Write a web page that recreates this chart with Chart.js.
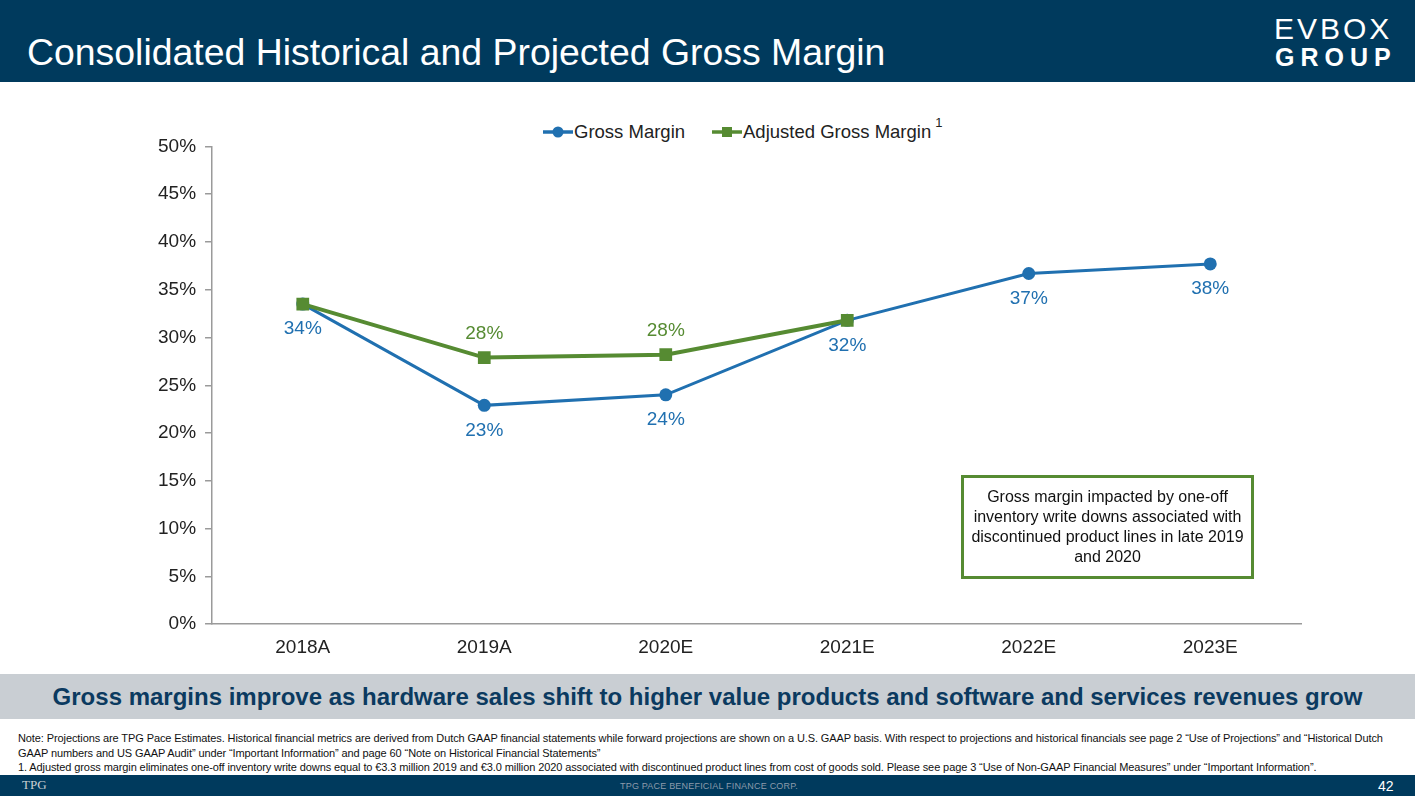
<!DOCTYPE html>
<html>
<head>
<meta charset="utf-8">
<script src="https://cdn.jsdelivr.net/npm/chart.js@4.4.0/dist/chart.umd.min.js"></script>
<style>
  body { margin: 0; width: 1415px; height: 796px; position: relative; overflow: hidden; background: #fff; font-family: "Liberation Sans", Arial, sans-serif; }
  #header { position: absolute; left: 0; top: 0; width: 1415px; height: 82px; background: #003a5d; }
  #title { position: absolute; left: 27px; top: 31px; color: #fff; font-size: 37.4px; }
  #logo1 { position: absolute; left: 1274px; top: 12px; color: #fff; font-size: 30px; letter-spacing: 3px; }
  #logo2 { position: absolute; left: 1275px; top: 43px; color: #fff; font-size: 25px; font-weight: bold; letter-spacing: 6px; }
  #chartBox { position: absolute; left: 128px; top: 126px; width: 1192px; height: 537px; }
  #legend { position: absolute; left: 543px; top: 119px; font-size: 18.5px; color: #222; white-space: nowrap; }
  #legend span.item { display: inline-block; margin-right: 27px; }
  #legend canvas { vertical-align: -1px; margin-right: 1px; }
  #legend sup { font-size: 13px; position: relative; top: -4px; margin-left: 4px; }
  #note { position: absolute; left: 961px; top: 475px; width: 287px; height: 98px; border: 3px solid #568b32; font-size: 16px; line-height: 20px; text-align: center; color: #111; display: flex; align-items: center; justify-content: center; }
  #banner { position: absolute; left: 0; top: 674px; width: 1415px; height: 45px; background: #c9ced3; color: #0b3a60; font-weight: bold; font-size: 24px; text-align: center; line-height: 45px; }
  #foot { position: absolute; left: 18px; top: 731px; width: 1372px; font-size: 11px; letter-spacing: -0.1px; line-height: 14.5px; color: #111; }
  #footer { position: absolute; left: 0; top: 775px; width: 1415px; height: 21px; background: #003a5d; }
  #tpg { position: absolute; left: 22px; top: 2px; color: #c9ced3; font-family: "Liberation Serif", serif; font-size: 13px; }
  #corp { position: absolute; left: 620px; top: 6px; color: #8c9bab; font-size: 9px; letter-spacing: 0.2px; }
  #page { position: absolute; left: 1378px; top: 3px; color: #fff; font-size: 14px; }
</style>
</head>
<body>
<div id="header">
  <div id="title">Consolidated Historical and Projected Gross Margin</div>
  <div id="logo1">EVBOX</div>
  <div id="logo2">GROUP</div>
</div>
<div id="legend"></div>
<div id="chartBox"><canvas id="gmChart"></canvas></div>
<div id="note">Gross margin impacted by one-off inventory write downs associated with discontinued product lines in late 2019 and 2020</div>
<div id="banner">Gross margins improve as hardware sales shift to higher value products and software and services revenues grow</div>
<div id="foot">Note: Projections are TPG Pace Estimates. Historical financial metrics are derived from Dutch GAAP financial statements while forward projections are shown on a U.S. GAAP basis. With respect to projections and historical financials see page 2 “Use of Projections” and “Historical Dutch GAAP numbers and US GAAP Audit” under “Important Information” and page 60 “Note on Historical Financial Statements”<br>1. Adjusted gross margin eliminates one-off inventory write downs equal to €3.3 million 2019 and €3.0 million 2020 associated with discontinued product lines from cost of goods sold. Please see page 3 “Use of Non-GAAP Financial Measures” under “Important Information”.</div>
<div id="footer">
  <div id="tpg">TPG</div>
  <div id="corp">TPG PACE BENEFICIAL FINANCE CORP.</div>
  <div id="page">42</div>
</div>
<script>
const years = ["2018A", "2019A", "2020E", "2021E", "2022E", "2023E"];
const grossMargin = [33.5, 22.9, 24.0, 31.8, 36.7, 37.7];
const adjustedMargin = [33.5, 27.9, 28.2, 31.8, null, null];
const grossLabels = ["34%", "23%", "24%", "32%", "37%", "38%"];
const adjustedLabels = [null, "28%", "28%", null, null, null];
const seriesNames = ["Gross Margin", "Adjusted Gross Margin"];

const blue = "#2070b0";
const green = "#568b32";
const fontFam = "'Liberation Sans', Arial, sans-serif";

function legendIcon(color, square) {
    const c = document.createElement("canvas");
    c.width = 30; c.height = 14;
    const g = c.getContext("2d");
    g.strokeStyle = color; g.lineWidth = 3.5;
    g.beginPath(); g.moveTo(0, 7); g.lineTo(30, 7); g.stroke();
    g.fillStyle = color;
    if (square) { g.fillRect(10, 2, 10, 10); }
    else { g.beginPath(); g.arc(15, 7, 5.5, 0, Math.PI * 2); g.fill(); }
    return c;
}

function buildLegend() {
    const box = document.getElementById("legend");
    [blue, green].forEach(function (color, i) {
        const item = document.createElement("span");
        item.className = "item";
        item.appendChild(legendIcon(color, i === 1));
        item.appendChild(document.createTextNode(seriesNames[i]));
        if (i === 1) {
            const s = document.createElement("sup");
            s.textContent = "1";
            item.appendChild(s);
        }
        box.appendChild(item);
    });
}

const pointLabels = {
    id: "pointLabels",
    afterDatasetsDraw(chart) {
        const ctx = chart.ctx;
        ctx.save();
        ctx.font = "19px " + fontFam;
        ctx.textAlign = "center";
        ctx.textBaseline = "middle";
        chart.getDatasetMeta(0).data.forEach(function (pt, i) {
            ctx.fillStyle = blue;
            ctx.fillText(grossLabels[i], pt.x, pt.y + 25);
        });
        chart.getDatasetMeta(1).data.forEach(function (pt, i) {
            if (!adjustedLabels[i]) return;
            ctx.fillStyle = green;
            ctx.fillText(adjustedLabels[i], pt.x, pt.y - 24);
        });
        ctx.restore();
    }
};

window.onload = function () {
    buildLegend();
    const ctx = document.getElementById("gmChart").getContext("2d");
    new Chart(ctx, {
        type: "line",
        data: {
            labels: years,
            datasets: [{
                label: seriesNames[0],
                data: grossMargin,
                order: 2,
                borderColor: blue,
                backgroundColor: blue,
                borderWidth: 3,
                pointStyle: "circle",
                pointRadius: 6.5,
                pointBorderWidth: 0,
                tension: 0
            }, {
                label: seriesNames[1],
                data: adjustedMargin,
                order: 1,
                borderColor: green,
                backgroundColor: green,
                borderWidth: 4,
                pointStyle: "rect",
                pointRadius: 9,
                pointBorderWidth: 0,
                tension: 0
            }]
        },
        options: {
            responsive: true,
            maintainAspectRatio: false,
            animation: false,
            layout: { padding: { left: 21, right: 19, top: 0, bottom: 0 } },
            plugins: {
                tooltip: { enabled: false },
                legend: { display: false }
            },
            scales: {
                x: {
                    offset: true,
                    grid: { display: false },
                    border: { display: true, color: "#9a9a9a", width: 1.5 },
                    ticks: { color: "#222", font: { size: 19, family: fontFam }, padding: 4 }
                },
                y: {
                    min: 0,
                    max: 50,
                    ticks: {
                        stepSize: 5,
                        color: "#222",
                        padding: 9,
                        font: { size: 19, family: fontFam },
                        callback: function (v) { return v + "%"; }
                    },
                    grid: { drawOnChartArea: false, drawTicks: true, tickLength: 7, color: "#9a9a9a", lineWidth: 1.5 },
                    border: { display: true, color: "#9a9a9a", width: 1.5 }
                }
            }
        },
        plugins: [pointLabels]
    });
};
</script>
</body>
</html>
